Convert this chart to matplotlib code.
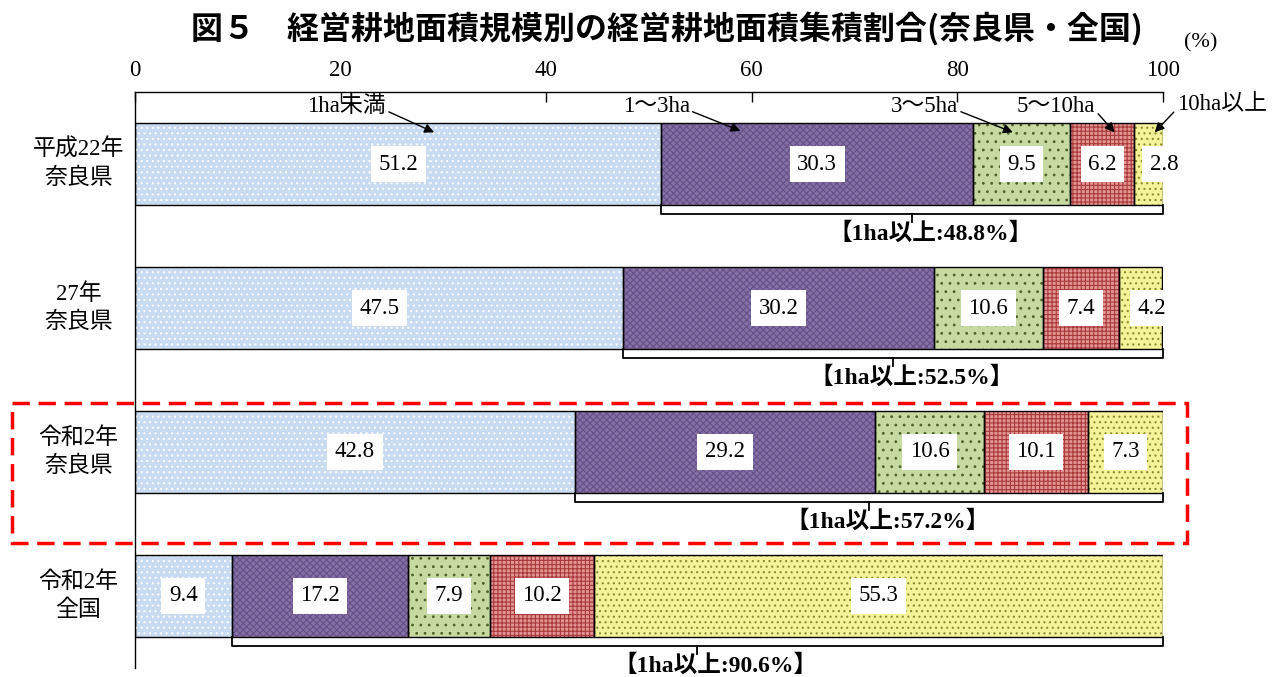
import matplotlib.pyplot as plt
from matplotlib.patches import Rectangle
import numpy as np

plt.rcParams['font.family'] = ['Liberation Serif', 'Noto Sans CJK JP']
plt.rcParams['hatch.linewidth'] = 0.8

# data
rows = ["平成22年\n奈良県", "27年\n奈良県", "令和2年\n奈良県", "令和2年\n全国"]
sizes = ["1ha未満", "1～3ha", "3～5ha", "5～10ha", "10ha以上"]
under1 = [51.2, 47.5, 42.8, 9.4]
ha1_3 = [30.3, 30.2, 29.2, 17.2]
ha3_5 = [9.5, 10.6, 10.6, 7.9]
ha5_10 = [6.2, 7.4, 10.1, 10.2]
ha10 = [2.8, 4.2, 7.3, 55.3]
over1 = [48.8, 52.5, 57.2, 90.6]

series = [under1, ha1_3, ha3_5, ha5_10, ha10]
faces = ['#c9dbf1', '#8570a6', '#c6d9a0', '#e39393', '#f4f39a']
hcols = ['#ffffff', '#665088', '#4f6228', '#a83a3a', '#8a8a30']
hatches = ['...', 'xxxxx', '..', '++++', '...']

fig = plt.figure(figsize=(12.77, 6.77), dpi=100)
ax = fig.add_axes([0.1057, 0.0133, 0.805, 0.8508])

y = np.arange(len(rows))
h = 0.57
left = np.zeros(len(rows))
for k, vals in enumerate(series):
    vals = np.array(vals)
    ax.barh(y, vals, h, left=left, color=faces[k], edgecolor='none', zorder=2)
    ax.barh(y, vals, h, left=left, color='none', edgecolor=hcols[k],
            hatch=hatches[k], linewidth=0, zorder=3)
    ax.barh(y, vals, h, left=left, fill=False, edgecolor='black',
            linewidth=1.0, zorder=4)
    for i, v in enumerate(vals):
        cx = left[i] + v / 2
        if k == 4 and i == 0:
            cx += 1.5
        if k == 4 and i == 1:
            cx += 1.1
        ax.text(cx, y[i], f"{v:.1f}", ha='center', va='center', fontsize=16.5,
                zorder=6, bbox=dict(boxstyle='square,pad=0.33', fc='white', ec='none'))
    left = left + vals

# brackets below each bar
for i in range(len(rows)):
    x0 = under1[i]
    yb = y[i] + h / 2
    yl = yb + 0.0625
    ax.plot([x0, x0, 100, 100], [yb, yl, yl, yb], color='black', lw=1.3,
            zorder=5, clip_on=False)
    xm = (x0 + 100) / 2
    ax.plot([xm, xm], [yl, yl + 0.055], color='black', lw=1.3, zorder=5, clip_on=False)
    ax.text(xm + 1.8, yb + 0.2, f"【1ha以上:{over1[i]:.1f}%】", ha='center', va='center',
            fontsize=17, fontweight='bold', zorder=6)

# legend callouts on first bar
txt_pos = [(20.6, -0.40), (50.7, -0.40), (76.8, -0.40), (89.6, -0.40), (105.7, -0.41)]
tips = [(29.1, -0.22), (58.9, -0.23), (85.4, -0.22), (95.3, -0.22), (99.2, -0.22)]
for k, name in enumerate(sizes):
    rp = (0.0, 0.3) if k == 4 else (1.0, 0.3)
    ax.annotate(name, xy=tips[k], xytext=txt_pos[k], ha='center', va='center',
                fontsize=16.5, zorder=7, annotation_clip=False,
                arrowprops=dict(arrowstyle='-|>', color='black', lw=1.0,
                                mutation_scale=14, shrinkA=0, shrinkB=0, relpos=rp))

# category labels
for i, lab in enumerate(rows):
    ax.text(-5.5, y[i], lab, ha='center', va='center', fontsize=16.5, linespacing=1.4)

# red dashed highlight
ax.add_patch(Rectangle((-11.96, 1.66), 114.3, 0.97, fill=False, edgecolor='#ff0000',
                       linestyle=(0, (5, 2.5)), linewidth=2.5, clip_on=False, zorder=8))

ax.set_xlim(0, 100)
ax.set_ylim(3.5, -0.5)
ax.xaxis.tick_top()
ax.set_xticks(np.arange(0, 101, 20))
ax.tick_params(axis='x', direction='in', length=7, width=1, pad=8, labelsize=16.5)
ax.set_yticks([])
for s in ['right', 'bottom']:
    ax.spines[s].set_visible(False)
ax.spines['left'].set_linewidth(1.0)
ax.spines['top'].set_linewidth(1.0)

fig.text(0.522, 0.957, "図５　経営耕地面積規模別の経営耕地面積集積割合(奈良県・全国)",
         ha='center', va='center', fontsize=23, fontweight='bold',
         family=['Noto Sans CJK JP', 'DejaVu Sans'])
fig.text(0.94, 0.937, "(%)", ha='center', va='center', fontsize=16)

fig.savefig('out.png', dpi=100)
